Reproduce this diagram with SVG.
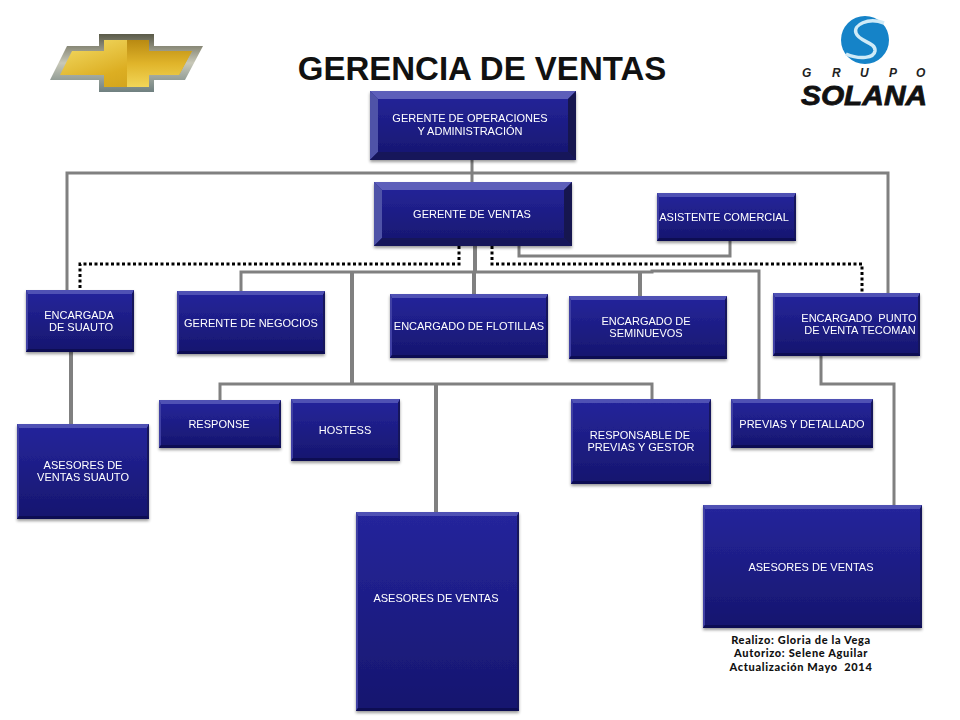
<svg xmlns="http://www.w3.org/2000/svg" width="960" height="720" viewBox="0 0 960 720">
<style>
.c{fill:none;stroke:#808080;stroke-width:3}
.w{stroke-width:4}
.d{fill:none;stroke:#000;stroke-width:3;stroke-dasharray:3 2.5}
.b{fill:url(#face)}
.t{fill:#4f51b4}.l{fill:#3f41a4}.r{fill:#12125c}.u{fill:#101052}
.t2{fill:#5d5fba}.l2{fill:#5052a8}.r2{fill:#13134f}.u2{fill:#14145a}
text{font-family:"Liberation Sans",Arial,sans-serif}
.n{font-size:11px;fill:#fff;text-anchor:middle}
.f{font-family:"Lato","Open Sans",sans-serif;font-weight:900;font-size:11px;letter-spacing:.65px;fill:#111;text-anchor:middle}
</style>
<defs>
<linearGradient id="face" x1="0" y1="0" x2="0" y2="1"><stop offset="0" stop-color="#25259c"/><stop offset="1" stop-color="#16166e"/></linearGradient>
<linearGradient id="gold" x1="0" y1="0" x2="1" y2="1"><stop offset="0" stop-color="#f4de6a"/><stop offset=".55" stop-color="#dcae22"/><stop offset="1" stop-color="#c99a18"/></linearGradient>
<linearGradient id="gold2" x1="0" y1="0" x2="0" y2="1"><stop offset="0" stop-color="#b98a12"/><stop offset=".5" stop-color="#e0b42a"/><stop offset="1" stop-color="#f2d658"/></linearGradient>
<linearGradient id="rim" x1="0" y1="0" x2="0" y2="1"><stop offset="0" stop-color="#5a5a48"/><stop offset=".5" stop-color="#c8c8b8"/><stop offset="1" stop-color="#6f8080"/></linearGradient>
<filter id="s" x="-10%" y="-10%" width="120%" height="125%"><feDropShadow dx="0" dy="2" stdDeviation="1.6" flood-color="#000" flood-opacity=".4"/></filter>
</defs>
<g id="logo-chevrolet">
<polygon points="99,34 154,34 154,46 203,46 185,80 154,80 154,92 99,92 99,80 50,80 67,46 99,46" fill="url(#rim)"/>
<polygon points="104,40 149,40 149,51 192,51 179,75 149,75 149,87 104,87 104,75 60,75 72,51 104,51" fill="url(#gold)"/>
<polygon points="127,40 149,40 149,51 192,51 179,75 149,75 149,87 127,87" fill="url(#gold2)"/>
</g>
<text x="482" y="80" font-size="33" font-weight="700" fill="#111" text-anchor="middle" id="title">GERENCIA DE VENTAS</text>
<g id="logo-solana">
<circle cx="865" cy="40" r="24" fill="#1583c8"/>
<path d="M884,23 C868,17 853,25 856,33 C859,42 876,42 875,51 C874,58 860,60 846,54" fill="none" stroke="#cfeaf7" stroke-width="3.5"/>
<text y="77" font-size="12" font-weight="700" font-style="italic" fill="#222" x="802 832 860 889 916">GRUPO</text>
<text x="864" y="105" font-size="28" font-weight="700" font-style="italic" fill="#111" stroke="#111" stroke-width=".8" text-anchor="middle" textLength="126" lengthAdjust="spacingAndGlyphs">SOLANA</text>
</g>
<g id="connectors">
<path class="c" d="M472,160V182M67,290V173H888V293"/>
<path class="c w" d="M475,246V272M474,272V294M352,272V384M640,272V296M436,384V512M71,352V424"/>
<path class="c" d="M241,291V272H652V271H759V399"/>
<path class="c" d="M220,400V384H652V399"/>
<path class="c" d="M519,246V256H730V241"/>
<path class="d" d="M459,246V264H80V290"/>
<path class="d" d="M492,246V264H862V293"/>
<path class="c" d="M821,356V384H894V505"/>
</g>
<g id="n1" filter="url(#s)"><rect class="b" x="370" y="91" width="206" height="69"/><polygon class="t2" points="370,91 576,91 568,99 378,99"/><polygon class="l2" points="370,91 378,99 378,152 370,160"/><polygon class="r2" points="576,91 568,99 568,152 576,160"/><polygon class="u2" points="370,160 378,152 568,152 576,160"/><text class="n"><tspan x="470" y="122">GERENTE DE OPERACIONES</tspan><tspan x="470" y="135">Y ADMINISTRACIÓN</tspan></text></g>
<g id="n2" filter="url(#s)"><rect class="b" x="374" y="182" width="198" height="64"/><polygon class="t2" points="374,182 572,182 564,190 382,190"/><polygon class="l2" points="374,182 382,190 382,238 374,246"/><polygon class="r2" points="572,182 564,190 564,238 572,246"/><polygon class="u2" points="374,246 382,238 564,238 572,246"/><text class="n" x="472" y="218">GERENTE DE VENTAS</text></g>
<g id="n3" filter="url(#s)"><rect class="b" x="657" y="193" width="139" height="48"/><polygon class="t" points="657,193 796,193 794,197 659,197"/><polygon class="l" points="657,193 659,197 659,238 657,241"/><polygon class="r" points="796,193 794,197 794,238 796,241"/><polygon class="u" points="657,241 659,238 794,238 796,241"/><text class="n" x="724" y="221">ASISTENTE COMERCIAL</text></g>
<g id="n4" filter="url(#s)"><rect class="b" x="26" y="290" width="108" height="62"/><polygon class="t" points="26,290 134,290 132,294 28,294"/><polygon class="l" points="26,290 28,294 28,349 26,352"/><polygon class="r" points="134,290 132,294 132,349 134,352"/><polygon class="u" points="26,352 28,349 132,349 134,352"/><text class="n"><tspan x="79" y="319">ENCARGADA</tspan><tspan x="81" y="331">DE SUAUTO</tspan></text></g>
<g id="n5" filter="url(#s)"><rect class="b" x="177" y="291" width="148" height="63"/><polygon class="t" points="177,291 325,291 323,295 179,295"/><polygon class="l" points="177,291 179,295 179,351 177,354"/><polygon class="r" points="325,291 323,295 323,351 325,354"/><polygon class="u" points="177,354 179,351 323,351 325,354"/><text class="n" x="251" y="327">GERENTE DE NEGOCIOS</text></g>
<g id="n6" filter="url(#s)"><rect class="b" x="390" y="294" width="158" height="64"/><polygon class="t" points="390,294 548,294 546,298 392,298"/><polygon class="l" points="390,294 392,298 392,355 390,358"/><polygon class="r" points="548,294 546,298 546,355 548,358"/><polygon class="u" points="390,358 392,355 546,355 548,358"/><text class="n" x="469" y="330">ENCARGADO DE FLOTILLAS</text></g>
<g id="n7" filter="url(#s)"><rect class="b" x="569" y="296" width="158" height="63"/><polygon class="t" points="569,296 727,296 725,300 571,300"/><polygon class="l" points="569,296 571,300 571,356 569,359"/><polygon class="r" points="727,296 725,300 725,356 727,359"/><polygon class="u" points="569,359 571,356 725,356 727,359"/><text class="n"><tspan x="646" y="325">ENCARGADO DE</tspan><tspan x="646" y="337">SEMINUEVOS</tspan></text></g>
<g id="n8" filter="url(#s)"><rect class="b" x="773" y="293" width="147" height="63"/><polygon class="t" points="773,293 920,293 918,297 775,297"/><polygon class="l" points="773,293 775,297 775,353 773,356"/><polygon class="r" points="920,293 918,297 918,353 920,356"/><polygon class="u" points="773,356 775,353 918,353 920,356"/><text class="n" xml:space="preserve"><tspan x="859" y="322">ENCARGADO  PUNTO</tspan><tspan x="860" y="334">DE VENTA TECOMAN</tspan></text></g>
<g id="n9" filter="url(#s)"><rect class="b" x="17" y="424" width="132" height="95"/><polygon class="t" points="17,424 149,424 147,428 19,428"/><polygon class="l" points="17,424 19,428 19,516 17,519"/><polygon class="r" points="149,424 147,428 147,516 149,519"/><polygon class="u" points="17,519 19,516 147,516 149,519"/><text class="n"><tspan x="83" y="469">ASESORES DE</tspan><tspan x="83" y="481">VENTAS SUAUTO</tspan></text></g>
<g id="n10" filter="url(#s)"><rect class="b" x="159" y="400" width="122" height="48"/><polygon class="t" points="159,400 281,400 279,404 161,404"/><polygon class="l" points="159,400 161,404 161,445 159,448"/><polygon class="r" points="281,400 279,404 279,445 281,448"/><polygon class="u" points="159,448 161,445 279,445 281,448"/><text class="n" x="219" y="428">RESPONSE</text></g>
<g id="n11" filter="url(#s)"><rect class="b" x="291" y="399" width="109" height="62"/><polygon class="t" points="291,399 400,399 398,403 293,403"/><polygon class="l" points="291,399 293,403 293,458 291,461"/><polygon class="r" points="400,399 398,403 398,458 400,461"/><polygon class="u" points="291,461 293,458 398,458 400,461"/><text class="n" x="345" y="434">HOSTESS</text></g>
<g id="n12" filter="url(#s)"><rect class="b" x="571" y="399" width="140" height="85"/><polygon class="t" points="571,399 711,399 709,403 573,403"/><polygon class="l" points="571,399 573,403 573,481 571,484"/><polygon class="r" points="711,399 709,403 709,481 711,484"/><polygon class="u" points="571,484 573,481 709,481 711,484"/><text class="n"><tspan x="640" y="439">RESPONSABLE DE</tspan><tspan x="641" y="451">PREVIAS Y GESTOR</tspan></text></g>
<g id="n13" filter="url(#s)"><rect class="b" x="731" y="399" width="142" height="49"/><polygon class="t" points="731,399 873,399 871,403 733,403"/><polygon class="l" points="731,399 733,403 733,445 731,448"/><polygon class="r" points="873,399 871,403 871,445 873,448"/><polygon class="u" points="731,448 733,445 871,445 873,448"/><text class="n" x="802" y="428">PREVIAS Y DETALLADO</text></g>
<g id="n14" filter="url(#s)"><rect class="b" x="356" y="512" width="163" height="199"/><polygon class="t" points="356,512 519,512 517,516 358,516"/><polygon class="l" points="356,512 358,516 358,708 356,711"/><polygon class="r" points="519,512 517,516 517,708 519,711"/><polygon class="u" points="356,711 358,708 517,708 519,711"/><text class="n" x="436" y="602">ASESORES DE VENTAS</text></g>
<g id="n15" filter="url(#s)"><rect class="b" x="703" y="505" width="219" height="123"/><polygon class="t" points="703,505 922,505 920,509 705,509"/><polygon class="l" points="703,505 705,509 705,625 703,628"/><polygon class="r" points="922,505 920,509 920,625 922,628"/><polygon class="u" points="703,628 705,625 920,625 922,628"/><text class="n" x="811" y="571">ASESORES DE VENTAS</text></g>
<g id="footer"><text class="f" x="801" y="644">Realizo: Gloria de la Vega</text><text class="f" x="801" y="657">Autorizo: Selene Aguilar</text><text class="f" x="801" y="671" xml:space="preserve">Actualización Mayo  2014</text></g>
</svg>
